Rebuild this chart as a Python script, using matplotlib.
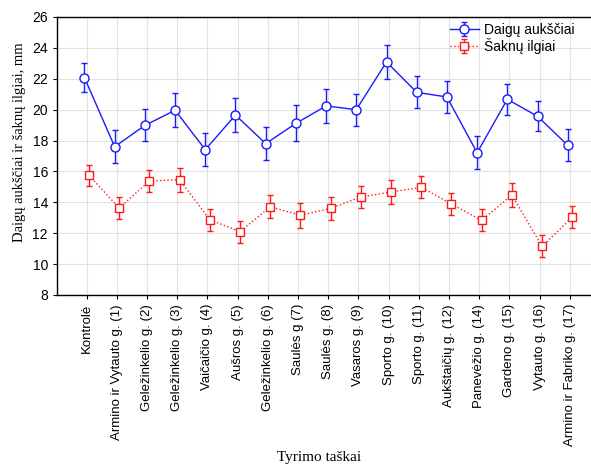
import numpy as np
import matplotlib.pyplot as plt
import matplotlib.ticker as ticker

labels = ['Kontrolė', 'Armino ir Vytauto g. (1)', 'Geležinkelio g. (2)',
          'Geležinkelio g. (3)', 'Vaičaičio g. (4)', 'Aušros g. (5)',
          'Geležinkelio g. (6)', 'Saulės g (7)', 'Saulės g. (8)',
          'Vasaros g. (9)', 'Sporto g. (10)', 'Sporto g. (11)',
          'Aukštaičių g. (12)', 'Panevėžio g. (14)', 'Gardeno g. (15)',
          'Vytauto g. (16)', 'Armino ir Fabriko g. (17)']

# Daigu aukstis (mean, error)
daigai = [22.07, 17.60, 18.98, 19.96, 17.41, 19.65, 17.80, 19.11, 20.24,
          20.00, 23.09, 21.12, 20.82, 17.21, 20.67, 19.57, 17.69]
daigai_err = [0.95, 1.08, 1.04, 1.10, 1.06, 1.08, 1.08, 1.17, 1.08,
              1.03, 1.08, 1.04, 1.03, 1.06, 1.01, 0.97, 1.04]

# Saknu ilgis (mean, error)
saknys = [15.75, 13.63, 15.38, 15.46, 12.87, 12.10, 13.71, 13.16, 13.61,
          14.34, 14.67, 14.97, 13.89, 12.83, 14.47, 11.15, 13.03]
saknys_err = [0.69, 0.73, 0.69, 0.78, 0.71, 0.71, 0.74, 0.81, 0.75,
              0.73, 0.75, 0.71, 0.73, 0.71, 0.76, 0.71, 0.71]

x = np.arange(len(labels))

fig = plt.figure(figsize=(5.91, 4.68), dpi=100)
ax = fig.add_axes([0.0964, 0.3697, 0.9036, 0.594])

ax.errorbar(x - 0.07, daigai, yerr=daigai_err, color='#1a1aff', lw=1.0,
            marker='o', ms=6.5, mfc='white', mec='#1a1aff', mew=1.0,
            capsize=2.5, elinewidth=1.0, capthick=1.0,
            label='Daigų aukščiai', zorder=3)
ax.errorbar(x + 0.08, saknys, yerr=saknys_err, color='#ff1a1a', lw=1.0,
            ls=':', marker='s', ms=6, mfc='white', mec='#ff1a1a', mew=1.0,
            capsize=2.5, elinewidth=1.0, capthick=1.0,
            label='Šaknų ilgiai', zorder=3)

ax.set_xlim(-0.98, 16.7)
ax.set_ylim(8, 26)
ax.yaxis.set_major_locator(ticker.MultipleLocator(2))
ax.set_xticks(x)
ax.set_xticklabels(labels, rotation=90, fontsize=9.5, family='Liberation Sans')
for t in ax.get_yticklabels():
    t.set_fontsize(10)
    t.set_family('Liberation Sans')

ax.grid(True, color='#e2e2e2', lw=0.8)
ax.set_axisbelow(True)
ax.spines['right'].set_visible(False)
for s in ['top', 'left', 'bottom']:
    ax.spines[s].set_linewidth(1.0)
ax.tick_params(direction='out', length=3, width=0.8)

ax.set_ylabel('Daigų aukščiai ir šaknų ilgiai, mm', family='Liberation Serif',
              fontsize=10.5)
ax.yaxis.set_label_coords(-0.058, 0.55)
ax.set_xlabel('Tyrimo taškai', family='Liberation Serif', fontsize=11)
ax.xaxis.set_label_coords(0.49, -0.56)

leg = ax.legend(loc='upper left', bbox_to_anchor=(0.717, 1.014), frameon=False,
                prop={'family': 'Liberation Sans', 'size': 10},
                handlelength=2.1, handletextpad=0.4, labelspacing=0.1,
                borderpad=0.2)

plt.savefig('out.png', dpi=100)
